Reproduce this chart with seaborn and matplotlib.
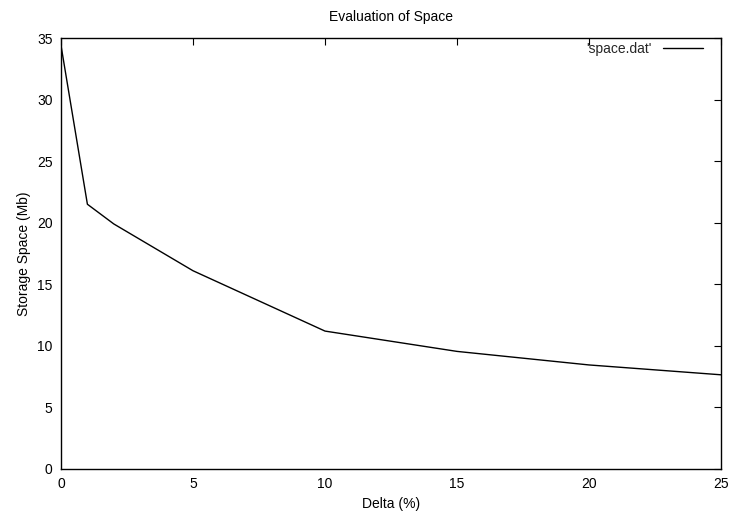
import matplotlib
matplotlib.use("Agg")
import matplotlib.pyplot as plt
import seaborn as sns
import pandas as pd

delta = [0, 1, 2, 5, 10, 15, 20, 25]
space = [34.4, 21.5, 19.9, 16.1, 11.2, 9.55, 8.45, 7.65]
x_ticks = [0, 5, 10, 15, 20, 25]
y_ticks = [0, 5, 10, 15, 20, 25, 30, 35]

sns.set_theme(style="white")
plt.rcParams['font.family'] = ['Liberation Sans', 'DejaVu Sans']

df = pd.DataFrame({"delta": delta, "space": space})
fig = plt.figure(figsize=(7.32, 5.18), dpi=100)
ax = fig.add_axes([61/732, 1-469/518, 660/732, 431/518])
sns.lineplot(data=df, x="delta", y="space", ax=ax, color="black", linewidth=1.0, label="'space.dat'")
ax.set_xlim(0, 25)
ax.set_ylim(0, 35)
ax.set_xticks(x_ticks)
ax.set_yticks(y_ticks)
ax.tick_params(direction="in", length=5, width=0.8, top=True, right=True, labelsize=10, colors="black", pad=6)
ax.set_xticklabels([str(t) for t in x_ticks])
for s in ax.spines.values():
    s.set_color("black")
    s.set_linewidth(1.0)
ax.set_xlabel("Delta (%)", fontsize=10, color="black")
ax.set_ylabel("Storage Space (Mb)", fontsize=10, color="black")
ax.set_title("Evaluation of Space", fontsize=10, color="black", pad=12)
leg = ax.legend(loc="upper right", frameon=False, fontsize=10, markerfirst=False,
                handlelength=2.9, borderaxespad=0, bbox_to_anchor=(1 - 12/660, 1 + 2/431))
fig.savefig("out.png", dpi=100)
